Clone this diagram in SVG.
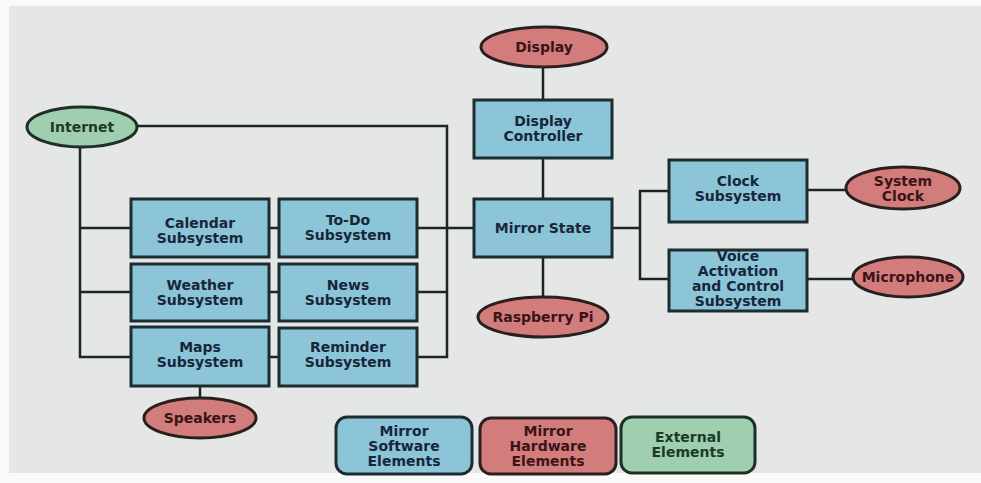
<svg xmlns="http://www.w3.org/2000/svg" width="981" height="483" viewBox="0 0 981 483">
<style>
.sw{fill:#8cc5d7;stroke:#1d2c30;stroke-width:3}
.hw{fill:#d27c7b;stroke:#2a1f1f;stroke-width:3}
.ex{fill:#9fcfae;stroke:#1f2f28;stroke-width:3}
.ln{fill:none;stroke:#1c2426;stroke-width:2.5}
text{font-family:"DejaVu Sans",Verdana,sans-serif;font-weight:bold;font-size:14px;fill:#17263a;text-anchor:middle}
text.h{fill:#3a1418}
text.e{fill:#1c3a2a}
</style>
<rect x="0" y="0" width="981" height="483" fill="#fafafa"/>
<rect x="9" y="6" width="972" height="467" fill="#e5e7e6"/>
<g id="connectors">
<line class="ln" x1="543" y1="67" x2="543" y2="100"/>
<line class="ln" x1="543" y1="158" x2="543" y2="199"/>
<line class="ln" x1="543" y1="257" x2="543" y2="297"/>
<polyline class="ln" points="612,228 640,228"/>
<polyline class="ln" points="669,191 640,191 640,279 669,279"/>
<line class="ln" x1="807" y1="190" x2="847" y2="190"/>
<line class="ln" x1="807" y1="279" x2="853" y2="279"/>
<polyline class="ln" points="137,126 447,126 447,357 417,357"/>
<line class="ln" x1="417" y1="292" x2="447" y2="292"/>
<line class="ln" x1="417" y1="228" x2="474" y2="228"/>
<polyline class="ln" points="80,147 80,357 131,357"/>
<line class="ln" x1="80" y1="228" x2="131" y2="228"/>
<line class="ln" x1="80" y1="292" x2="131" y2="292"/>
<line class="ln" x1="269" y1="228" x2="279" y2="228"/>
<line class="ln" x1="269" y1="292" x2="279" y2="292"/>
<line class="ln" x1="269" y1="357" x2="279" y2="357"/>
<line class="ln" x1="200" y1="386" x2="200" y2="398"/>
</g>
<g id="display"><ellipse class="hw" cx="544" cy="47" rx="63" ry="20"/><text class="h" x="544" y="52">Display</text></g>
<g id="display-controller"><rect class="sw" x="474" y="100" width="138" height="58"/><text x="543" y="126">Display</text><text x="543" y="141">Controller</text></g>
<g id="mirror-state"><rect class="sw" x="474" y="199" width="138" height="58"/><text x="543" y="233">Mirror State</text></g>
<g id="raspberry-pi"><ellipse class="hw" cx="543" cy="317" rx="65" ry="20"/><text class="h" x="543" y="322">Raspberry Pi</text></g>
<g id="clock-subsystem"><rect class="sw" x="669" y="160" width="138" height="62"/><text x="738" y="186">Clock</text><text x="738" y="201">Subsystem</text></g>
<g id="voice-subsystem"><rect class="sw" x="669" y="250" width="138" height="61"/><text x="738" y="261">Voice</text><text x="738" y="276">Activation</text><text x="738" y="291">and Control</text><text x="738" y="306">Subsystem</text></g>
<g id="system-clock"><ellipse class="hw" cx="903" cy="188" rx="57" ry="21"/><text class="h" x="903" y="186">System</text><text class="h" x="903" y="201">Clock</text></g>
<g id="microphone"><ellipse class="hw" cx="908" cy="277" rx="55" ry="20"/><text class="h" x="908" y="282">Microphone</text></g>
<g id="internet"><ellipse class="ex" cx="82" cy="127" rx="55" ry="20"/><text class="e" x="82" y="132">Internet</text></g>
<g id="calendar"><rect class="sw" x="131" y="199" width="138" height="58"/><text x="200" y="228">Calendar</text><text x="200" y="243">Subsystem</text></g>
<g id="todo"><rect class="sw" x="279" y="199" width="138" height="58"/><text x="348" y="225">To-Do</text><text x="348" y="240">Subsystem</text></g>
<g id="weather"><rect class="sw" x="131" y="264" width="138" height="57"/><text x="200" y="290">Weather</text><text x="200" y="305">Subsystem</text></g>
<g id="news"><rect class="sw" x="279" y="264" width="138" height="57"/><text x="348" y="290">News</text><text x="348" y="305">Subsystem</text></g>
<g id="maps"><rect class="sw" x="131" y="327" width="138" height="59"/><text x="200" y="352">Maps</text><text x="200" y="367">Subsystem</text></g>
<g id="reminder"><rect class="sw" x="279" y="328" width="138" height="58"/><text x="348" y="352">Reminder</text><text x="348" y="367">Subsystem</text></g>
<g id="speakers"><ellipse class="hw" cx="200" cy="418" rx="56" ry="20"/><text class="h" x="200" y="423">Speakers</text></g>
<g id="legend-software"><rect class="sw" x="336" y="417" width="136" height="57" rx="11"/><text x="404" y="436">Mirror</text><text x="404" y="451">Software</text><text x="404" y="466">Elements</text></g>
<g id="legend-hardware"><rect class="hw" x="480" y="418" width="136" height="56" rx="11"/><text class="h" x="548" y="436">Mirror</text><text class="h" x="548" y="451">Hardware</text><text class="h" x="548" y="466">Elements</text></g>
<g id="legend-external"><rect class="ex" x="621" y="417" width="134" height="56" rx="11"/><text class="e" x="688" y="442">External</text><text class="e" x="688" y="457">Elements</text></g>
</svg>
